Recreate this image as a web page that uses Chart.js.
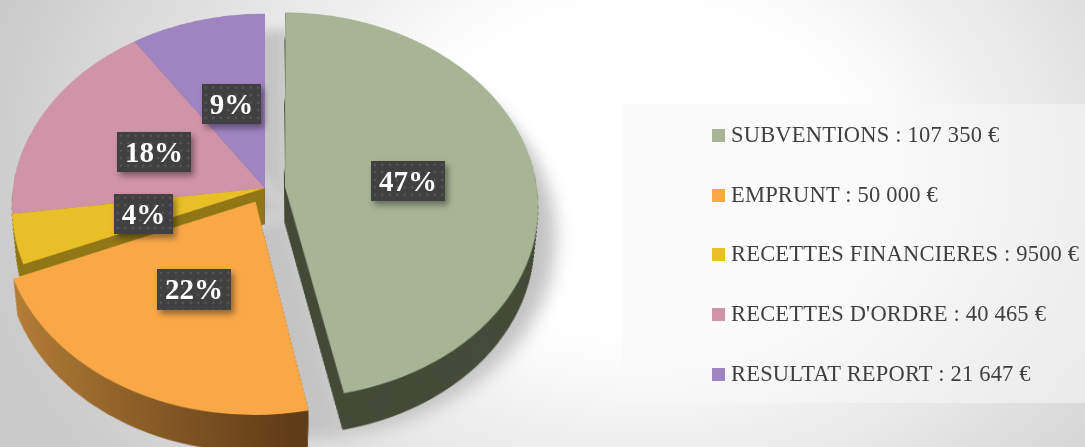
<!DOCTYPE html>
<html lang="fr">
<head>
    <meta charset="UTF-8">
    <title>Recettes</title>
    <script src="https://cdn.jsdelivr.net/npm/chart.js"></script>
    <style>
        html, body { margin: 0; width: 1085px; height: 447px; overflow: hidden; }
        body { position: relative; background: radial-gradient(ellipse 680px 520px at 640px 170px, #fff 32%, #c9c9c9 100%); }
        #wrap { position: absolute; left: -115px; top: -192px; width: 760px; height: 760px;
                transform-origin: 50% 50%; transform: perspective(1685px) rotateX(40.6deg); }
        #panel { position: absolute; left: 622px; top: 104px; width: 463px; height: 299px; background: rgba(248,248,248,.55); }
        .row { position: absolute; left: 712px; color: #404040; font: 22.5px "Liberation Serif", serif; letter-spacing: .2px; white-space: nowrap; line-height: 24px; }
        .row i { display: inline-block; width: 13px; height: 13px; margin-right: 6px; }
        .tag { position: absolute; box-sizing: border-box; background-color: #404040; color: #fff; text-align: center;
               font: bold 29px/40px "Liberation Serif", serif; box-shadow: 3px 4px 6px rgba(0,0,0,.4);
               background-image: radial-gradient(#585858 1px, transparent 1.6px); background-size: 7.5px 7.5px; }
    </style>
</head>
<body>
    <div id="wrap"><canvas id="pie" width="760" height="760"></canvas></div>
    <div id="panel"></div>
    <div id="labels"></div>

<script type="text/javascript">
    const categories = ['SUBVENTIONS', 'EMPRUNT', 'RECETTES FINANCIERES', "RECETTES D'ORDRE", 'RESULTAT REPORT'];
    const amounts = [107350, 50000, 9500, 40465, 21647];
    const amountLabels = ['107 350 €', '50 000 €', '9500 €', '40 465 €', '21 647 €'];

    const topColors = ['#a7b595', '#f9a848', '#e9bf28', '#d094a9', '#9e84c1'];
    const wallColors = ['#454b38', null, '#917716', '#917716', '#6f5c8a'];
    const explode = [80, 80, 0, 0, 0];   // arc draw uses offset / 4, and grows the radius by it too
    const radiusTrim = [16, 2, 0, 0, 0];

    const legendTops = [123, 183, 242, 302, 362];
    const tagBoxes = [[371, 161, 74, 40], [157, 269, 74, 41], [114, 194, 59, 40], [117, 132, 74, 40], [202, 84, 59, 40]];

    const wallDepth = 47;

    // side walls and soft shadow go under the native arcs
    const depthPlugin = {
        id: 'depth',
        afterDatasetsUpdate(chart) {
            chart.getDatasetMeta(0).data.forEach((a, i) => { a.outerRadius -= radiusTrim[i]; });
        },
        beforeDatasetsDraw(chart) {
            const ctx = chart.ctx;
            const arcs = chart.getDatasetMeta(0).data;
            const paint = (arc, color, opts) => {
                const ghost = Object.create(arc);
                ghost.options = Object.assign({}, arc.options, { backgroundColor: color, borderWidth: 0 }, opts);
                ghost.draw(ctx);
            };
            const r = chart.getDatasetMeta(0).controller.outerRadius, cx = arcs[0].x, cy = arcs[0].y;

            // shadow is one whole disc, so the gaps between the slices fill up grey
            ctx.save();
            ctx.filter = 'blur(8px)';
            ctx.translate(25, 34);
            arcs.forEach(a => {
                const flat = Object.create(a);
                flat.outerRadius = r + 8;
                flat.options = Object.assign({}, a.options, { backgroundColor: '#c4c4c4', borderColor: '#c4c4c4', borderWidth: 1, offset: 0 });
                flat.draw(ctx);
            });
            ctx.restore();

            const orange = ctx.createLinearGradient(cx - r, 0, cx + r * 0.15, 0);
            orange.addColorStop(0, '#b98239');
            orange.addColorStop(1, '#5f3b16');

            for (let i = arcs.length - 1; i >= 0; i--) {
                for (let d = wallDepth; d > 0; d--) {
                    const s = 1 - d * 0.0007;
                    ctx.save();
                    ctx.translate(cx, cy + d);
                    ctx.scale(s, s);
                    ctx.translate(-cx, -cy);
                    paint(arcs[i], wallColors[i] || orange);
                    ctx.restore();
                }
            }
        }
    };

    new Chart(document.getElementById('pie').getContext('2d'), {
        type: 'pie',
        data: {
            labels: categories,
            datasets: [{
                data: amounts,
                backgroundColor: topColors,
                borderWidth: 0,
                offset: explode
            }]
        },
        options: {
            responsive: false,
            animation: false,
            radius: 252,
            plugins: { legend: { display: false }, tooltip: { enabled: false } }
        },
        plugins: [depthPlugin]
    });

    const total = amounts.reduce((a, b) => a + b, 0);
    const holder = document.getElementById('labels');
    categories.forEach((name, i) => {
        const row = document.createElement('div');
        row.className = 'row';
        row.style.top = legendTops[i] + 'px';
        row.innerHTML = '<i style="background:' + topColors[i] + '"></i>' + name + ' : ' + amountLabels[i];
        holder.appendChild(row);

        const b = tagBoxes[i];
        const tag = document.createElement('div');
        tag.className = 'tag';
        tag.style.cssText = 'left:' + b[0] + 'px;top:' + b[1] + 'px;width:' + b[2] + 'px;height:' + b[3] + 'px';
        tag.textContent = Math.round(amounts[i] / total * 100) + '%';
        holder.appendChild(tag);
    });
</script>
</body>
</html>
